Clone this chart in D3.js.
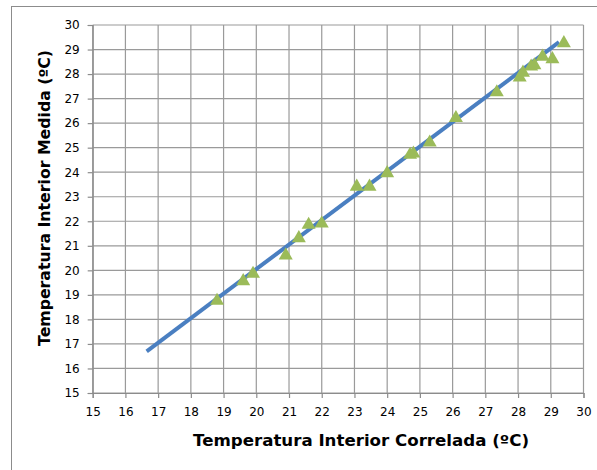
<!DOCTYPE html>
<html>
<head>
<meta charset="utf-8">
<script src="https://cdn.jsdelivr.net/npm/d3@7"></script>
<style>
  body { margin: 0; background: #fff; }
  svg text { font-family: "DejaVu Sans", Verdana, sans-serif; fill: #000; }
</style>
</head>
<body>
<div class="chart"></div>
<script>
// valores (correlada, medida)
const correlada = [18.8, 19.6, 19.9, 20.9, 21.3, 21.6, 22.0, 23.07, 23.46, 24.0, 24.7, 24.8, 25.3, 26.1, 27.35, 28.05, 28.15, 28.4, 28.5, 28.75, 29.05, 29.4];
const medida    = [18.8, 19.6, 19.9, 20.65, 21.35, 21.9, 21.95, 23.45, 23.45, 24.0, 24.75, 24.8, 25.25, 26.25, 27.3, 27.9, 28.1, 28.35, 28.4, 28.75, 28.65, 29.3];
// recta de ajuste (extremos)
const lineaX = [16.65, 29.25];
const lineaY = [16.7, 29.3];
const ticks = d3.range(15, 31);

const width = 597, height = 470;
const margin = { left: 92.7, right: 597 - 583.5, top: 25, bottom: 470 - 393 };

const svg = d3.select(".chart")
  .append("svg")
  .attr("width", width)
  .attr("height", height);

// marco exterior
svg.append("rect")
  .attr("x", 11.5).attr("y", 6.5)
  .attr("width", 600).attr("height", 480)
  .attr("fill", "none")
  .attr("stroke", "#8c8c8c")
  .attr("stroke-width", 1);

const x = d3.scaleLinear().domain([15, 30]).range([margin.left, width - margin.right]);
const y = d3.scaleLinear().domain([15, 30]).range([height - margin.bottom, margin.top]);

// rejilla
svg.append("g")
  .selectAll("line.v")
  .data(ticks)
  .enter()
  .append("line")
  .attr("x1", d => x(d)).attr("x2", d => x(d))
  .attr("y1", y(30)).attr("y2", y(15))
  .attr("stroke", "#9a9a9a")
  .attr("stroke-width", 1.2);

svg.append("g")
  .selectAll("line.h")
  .data(ticks)
  .enter()
  .append("line")
  .attr("x1", x(15)).attr("x2", x(30))
  .attr("y1", d => y(d)).attr("y2", d => y(d))
  .attr("stroke", "#9a9a9a")
  .attr("stroke-width", 1.2);

// ejes
const xAxis = svg.append("g")
  .attr("transform", `translate(0,${y(15)})`)
  .call(d3.axisBottom(x).tickValues(ticks).tickSize(5).tickPadding(9).tickFormat(d3.format("d")));
const yAxis = svg.append("g")
  .attr("transform", `translate(${x(15)},0)`)
  .call(d3.axisLeft(y).tickValues(ticks).tickSize(5).tickPadding(8).tickFormat(d3.format("d")));

[xAxis, yAxis].forEach(a => {
  a.select(".domain").attr("stroke", "#8c8c8c").attr("stroke-width", 1.2);
  a.selectAll(".tick line").attr("stroke", "#8c8c8c").attr("stroke-width", 1.2);
  a.selectAll("text").attr("font-size", 12).attr("font-family", "DejaVu Sans").attr("fill", "#000");
});

// recta
svg.append("line")
  .attr("x1", x(lineaX[0])).attr("y1", y(lineaY[0]))
  .attr("x2", x(lineaX[1])).attr("y2", y(lineaY[1]))
  .attr("stroke", "#4a7fc1")
  .attr("stroke-width", 4);

// puntos
const tri = d3.symbol().type(d3.symbolTriangle).size(85);
svg.append("g")
  .selectAll("path")
  .data(correlada)
  .enter()
  .append("path")
  .attr("d", tri)
  .attr("transform", (d, i) => `translate(${x(d)},${y(medida[i]) + 1})`)
  .attr("fill", "#9bbb59");

// titulos
svg.append("text")
  .attr("x", 361)
  .attr("y", 446)
  .attr("text-anchor", "middle")
  .attr("font-size", 15)
  .attr("font-weight", "bold")
  .attr("textLength", 336)
  .attr("lengthAdjust", "spacingAndGlyphs")
  .text("Temperatura Interior Correlada (ºC)");

svg.append("text")
  .attr("transform", "translate(50,198) rotate(-90)")
  .attr("text-anchor", "middle")
  .attr("font-size", 15)
  .attr("font-weight", "bold")
  .attr("textLength", 296)
  .attr("lengthAdjust", "spacingAndGlyphs")
  .text("Temperatura Interior Medida (ºC)");
</script>
</body>
</html>
